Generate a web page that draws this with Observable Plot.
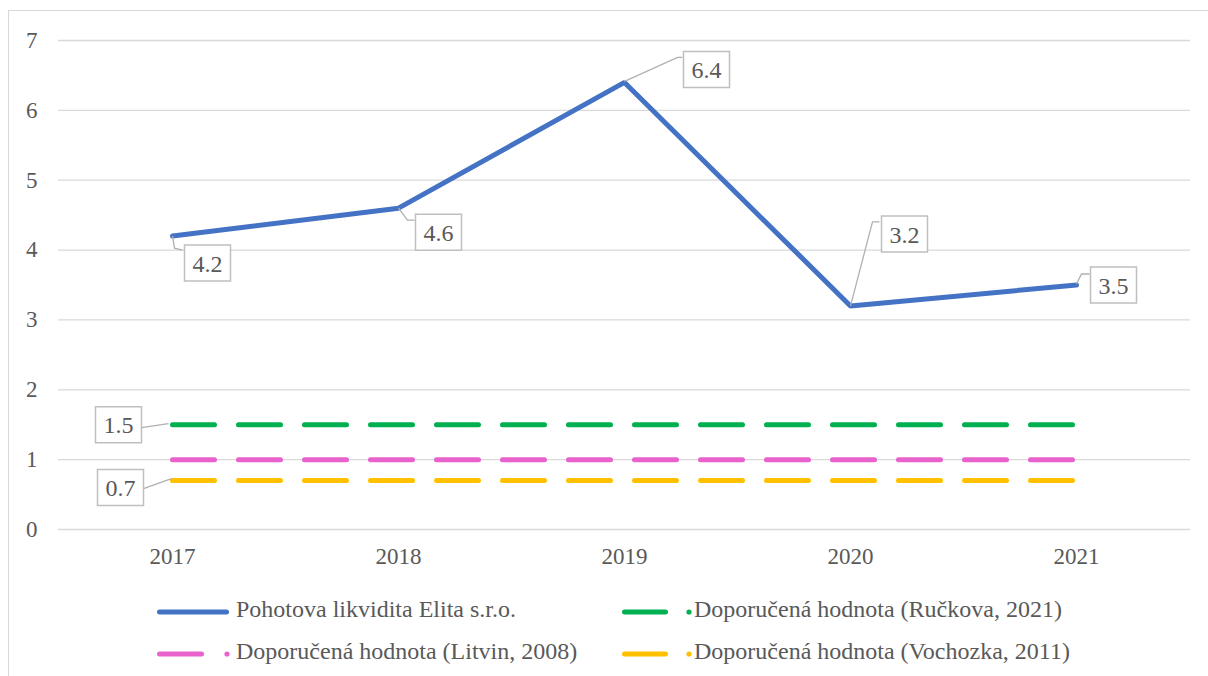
<!DOCTYPE html>
<html><head><meta charset="utf-8">
<script src="https://cdn.jsdelivr.net/npm/d3@7"></script>
<script src="https://cdn.jsdelivr.net/npm/@observablehq/plot@0.6"></script>
<style>
body{margin:0;background:#fff;font-family:"Liberation Serif",serif;}
#wrap{position:relative;width:1208px;height:676px;overflow:hidden;background:#fff;}
#frame{position:absolute;left:8px;top:10px;width:1230px;height:720px;border:1px solid #d9d9d9;}
#chart{position:absolute;left:0;top:0;}
.legtext{position:absolute;font-size:24px;color:#595959;white-space:nowrap;line-height:28px;}
.legsw{position:absolute;}
</style></head><body>
<div id="wrap"><div id="frame"></div><div id="chart"></div><div id="legend"></div></div>
<script>
// ---- data ----
const years = ["2017", "2018", "2019", "2020", "2021"];
const liquidity = [4.2, 4.6, 6.4, 3.2, 3.5];
const ruckova = [1.5, 1.5, 1.5, 1.5, 1.5];
const litvin = [1, 1, 1, 1, 1];
const vochozka = [0.7, 0.7, 0.7, 0.7, 0.7];
const yTicks = [0, 1, 2, 3, 4, 5, 6, 7];
const seriesNames = [
  "Pohotova likvidita Elita s.r.o.",
  "Doporučená hodnota (Ručkova, 2021)",
  "Doporučená hodnota (Litvin, 2008)",
  "Doporučená hodnota (Vochozka, 2011)"
];

// ---- styling ----
const colors = ["#4472c4", "#00b050", "#e962cc", "#ffc000"];
const textColor = "#595959";
const gridColor = "#d9d9d9";
const boxColor = "#bfbfbf";
const font = "Liberation Serif";

const table = (vals) => years.map((y, i) => ({year: y, value: vals[i]}));
const main = table(liquidity);
const dashedSeries = [table(ruckova), table(litvin), table(vochozka)];

// label placements (pixel offsets from the data point)
const labels = [
  {data: main, i: 0, dx: 35, dy: 27, leader: [[0, 0], [2, 12], [10, 14]]},
  {data: main, i: 1, dx: 40, dy: 24, leader: [[0, 0], [9, 12], [16, 12]]},
  {data: main, i: 2, dx: 82, dy: -13, leader: [[0, -1], [53, -25], [58, -25]]},
  {data: main, i: 3, dx: 54, dy: -72, leader: [[0, 0], [22, -84], [29, -84]]},
  {data: main, i: 4, dx: 37, dy: 0, leader: [[0, -1], [5, -11], [13, -11]]},
  {data: dashedSeries[0], i: 0, dx: -54, dy: 0, leader: [[-4, -1], [-31, 3]]},
  {data: dashedSeries[2], i: 0, dx: -52, dy: 7, leader: [[-1, -2], [-29, 8]]}
];

const boxSymbol = {draw(ctx) { ctx.rect(-23, -18, 46, 36); }};
const polySymbol = (pts) => ({draw(ctx) {
  ctx.moveTo(pts[0][0], pts[0][1]);
  for (let k = 1; k < pts.length; k++) ctx.lineTo(pts[k][0], pts[k][1]);
}});

const marks = [
  Plot.ruleY(yTicks, {stroke: gridColor, strokeWidth: 1.3, strokeOpacity: 1}),
  ...dashedSeries.map((d, k) => Plot.line(d, {
    x: "year", y: "value", stroke: colors[k + 1], strokeWidth: 5,
    strokeDasharray: "42,24", strokeLinecap: "round"
  })),
  Plot.line(main, {x: "year", y: "value", stroke: colors[0], strokeWidth: 5, strokeLinejoin: "miter", strokeLinecap: "round"})
];
for (const L of labels) {
  const d = [L.data[L.i]];
  marks.push(Plot.dot(d, {x: "year", y: "value", r: 5, symbol: polySymbol(L.leader), fill: "none", stroke: "#b0b0b0", strokeWidth: 1.3}));
  marks.push(Plot.dot(d, {x: "year", y: "value", r: 10, dx: L.dx, dy: L.dy, symbol: boxSymbol, fill: "white", stroke: boxColor, strokeWidth: 1.5}));
  marks.push(Plot.text(d, {x: "year", y: "value", dx: L.dx, dy: L.dy + 1, text: (r) => String(r.value), fill: textColor, fontSize: 24, fontFamily: font}));
}

const chart = Plot.plot({
  width: 1208,
  height: 576,
  marginLeft: 58,
  marginRight: 18,
  marginTop: 40,
  marginBottom: 47,
  style: {fontFamily: font, fontSize: "23px", color: textColor, background: "transparent", overflow: "visible"},
  x: {type: "point", domain: years, padding: 0.5, tickSize: 0, tickPadding: 18, label: null},
  y: {domain: [0, 7], ticks: yTicks, tickSize: 0, tickPadding: 21, label: null, tickFormat: d3.format("d")},
  marks
});
document.getElementById("chart").appendChild(chart);

// ---- legend (below the SVG) ----
const legendPos = [
  {k: 0, sw: 157, swEnd: 229, dot: null, text: 236, cy: 608},
  {k: 1, sw: 622, swEnd: 668, dot: 689, text: 694, cy: 608},
  {k: 2, sw: 157, swEnd: 204, dot: 227, text: 236, cy: 650},
  {k: 3, sw: 622, swEnd: 668, dot: 689, text: 694, cy: 650}
];
const legend = document.getElementById("legend");
for (const p of legendPos) {
  const sw = document.createElement("div");
  sw.className = "legsw";
  sw.style.left = p.sw + "px";
  sw.style.top = (p.cy - 5) + "px";
  const c = colors[p.k];
  const w = p.text - p.sw;
  sw.innerHTML = `<svg width="${w}" height="10"><line x1="2.5" y1="5" x2="${p.swEnd - p.sw - 2.5}" y2="5" stroke="${c}" stroke-width="5" stroke-linecap="round"/>` +
    (p.dot != null ? `<circle cx="${p.dot - p.sw}" cy="5" r="2.6" fill="${c}"/>` : "") + `</svg>`;
  legend.appendChild(sw);
  const t = document.createElement("div");
  t.className = "legtext";
  t.style.left = p.text + "px";
  t.style.top = (p.cy - 13) + "px";
  t.textContent = seriesNames[p.k];
  legend.appendChild(t);
}
</script>
</body></html>
